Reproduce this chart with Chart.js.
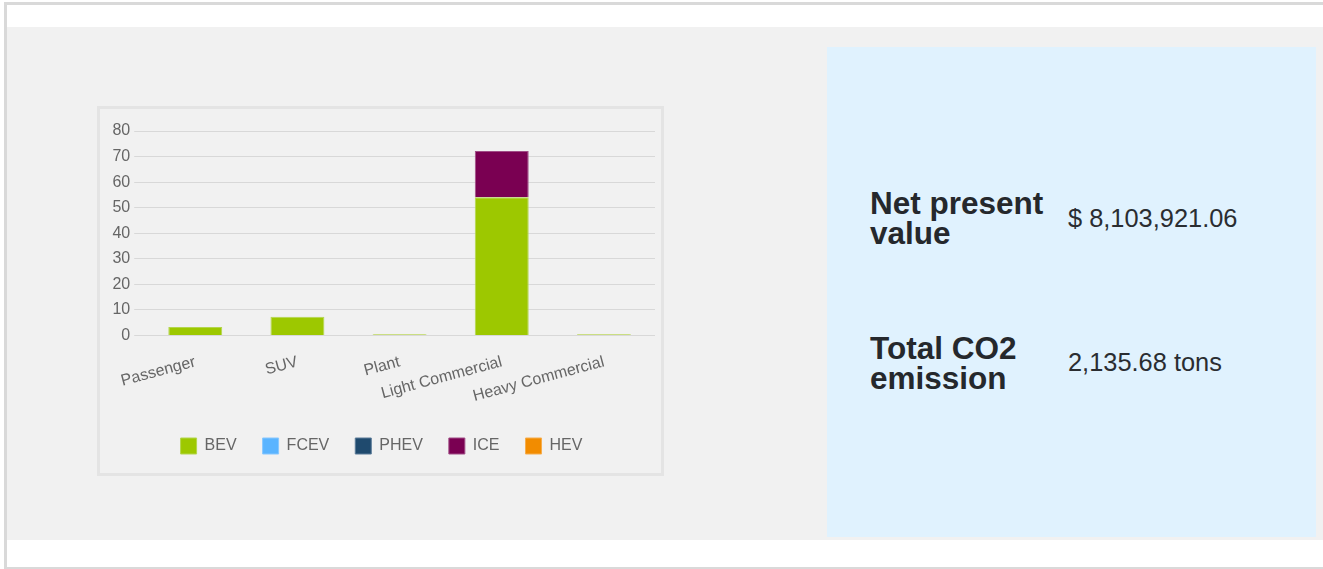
<!DOCTYPE html>
<html>
<head>
<meta charset="utf-8">
<script src="https://cdn.jsdelivr.net/npm/chart.js@4/dist/chart.umd.min.js"></script>
<style>
  html, body { margin: 0; padding: 0; background: #ffffff; }
  body { width: 1323px; height: 569px; position: relative; overflow: hidden; font-family: "Liberation Sans", Arial, sans-serif; }
  .frame-top { position: absolute; left: 4px; top: 2px; width: 1319px; height: 3px; background: #d9d9d9; }
  .frame-left { position: absolute; left: 4px; top: 2px; width: 3px; height: 567px; background: #d9d9d9; }
  .frame-bottom { position: absolute; left: 4px; top: 567px; width: 1319px; height: 2px; background: #d9d9d9; }
  .panel { position: absolute; left: 7px; top: 27px; width: 1316px; height: 513px; background: #f1f1f1; }
  .blue { position: absolute; left: 827px; top: 47px; width: 489px; height: 490px; background: #e0f2fe; }
  .chartbox { position: absolute; left: 97px; top: 106px; width: 567px; height: 370px; box-sizing: border-box; border: 3px solid #e4e4e4; background: #f1f1f1; }
  .chartbox .inner { position: relative; width: 561px; height: 364px; }
  .lbl { position: absolute; font-weight: bold; font-size: 31.5px; line-height: 30px; color: #25282c; }
  .val { position: absolute; font-size: 25.4px; line-height: 25px; color: #2a2d31; white-space: nowrap; }
</style>
</head>
<body>
<div class="frame-top"></div>
<div class="frame-left"></div>
<div class="frame-bottom"></div>
<div class="panel"></div>
<div class="blue"></div>
<div class="chartbox"><div class="inner"><canvas id="c"></canvas></div></div>
<div class="lbl" style="left:870px; top:188px;">Net present<br>value</div>
<div class="val" style="left:1068px; top:206px;">$ 8,103,921.06</div>
<div class="lbl" style="left:870px; top:333px;">Total CO2<br>emission</div>
<div class="val" style="left:1068px; top:350px;">2,135.68 tons</div>
<script>
const categories = ["Passenger", "SUV", "Plant", "Light Commercial", "Heavy Commercial"];
const bev  = [3.3, 7.3, 0.5, 54.1, 0.5];
const fcev = [0, 0, 0, 0, 0];
const phev = [0, 0, 0, 0, 0];
const ice  = [0, 0, 0, 18.1, 0];
const hev  = [0, 0, 0, 0, 0];
const yTicks = [0, 10, 20, 30, 40, 50, 60, 70, 80];

const series = [
  { label: "BEV",  data: bev,  bg: "#9dc800", bd: "#b3d64d" },
  { label: "FCEV", data: fcev, bg: "#5ab4ff", bd: "#86c7ff" },
  { label: "PHEV", data: phev, bg: "#1f4a6e", bd: "#5a7b98" },
  { label: "ICE",  data: ice,  bg: "#7a0052", bd: "#a04d86" },
  { label: "HEV",  data: hev,  bg: "#f28c00", bd: "#f6ad4d" }
];

Chart.defaults.font.family = "'Liberation Sans', Arial, sans-serif";
Chart.defaults.font.size = 16;
Chart.defaults.color = "#666";

new Chart(document.getElementById("c"), {
  type: "bar",
  data: {
    labels: categories,
    datasets: series.map(s => ({
      label: s.label,
      data: s.data,
      backgroundColor: s.bg,
      borderColor: s.bd,
      borderWidth: 1,
      barPercentage: 0.66,
      categoryPercentage: 0.8
    }))
  },
  options: {
    responsive: true,
    maintainAspectRatio: false,
    animation: false,
    layout: { padding: { left: 8, right: 6, top: 22, bottom: 9 } },
    plugins: {
      legend: {
        position: "bottom",
        labels: { boxWidth: 16, boxHeight: 16, padding: 26, color: "#666", font: { size: 16 } }
      },
      tooltip: { enabled: false }
    },
    scales: {
      x: {
        stacked: true,
        grid: { display: false, drawTicks: false },
        border: { display: false },
        ticks: { minRotation: 15, maxRotation: 15, color: "#666", padding: 17 },
        afterFit: (axis) => { axis.height -= 11; }
      },
      y: {
        stacked: true,
        min: 0, max: 80,
        afterBuildTicks: (axis) => { axis.ticks = yTicks.map(v => ({ value: v })); },
        grid: { color: "rgba(0,0,0,0.1)", tickLength: 10 },
        border: { display: false },
        ticks: { color: "#666", padding: 4 }
      }
    }
  }
});
</script>
</body>
</html>
